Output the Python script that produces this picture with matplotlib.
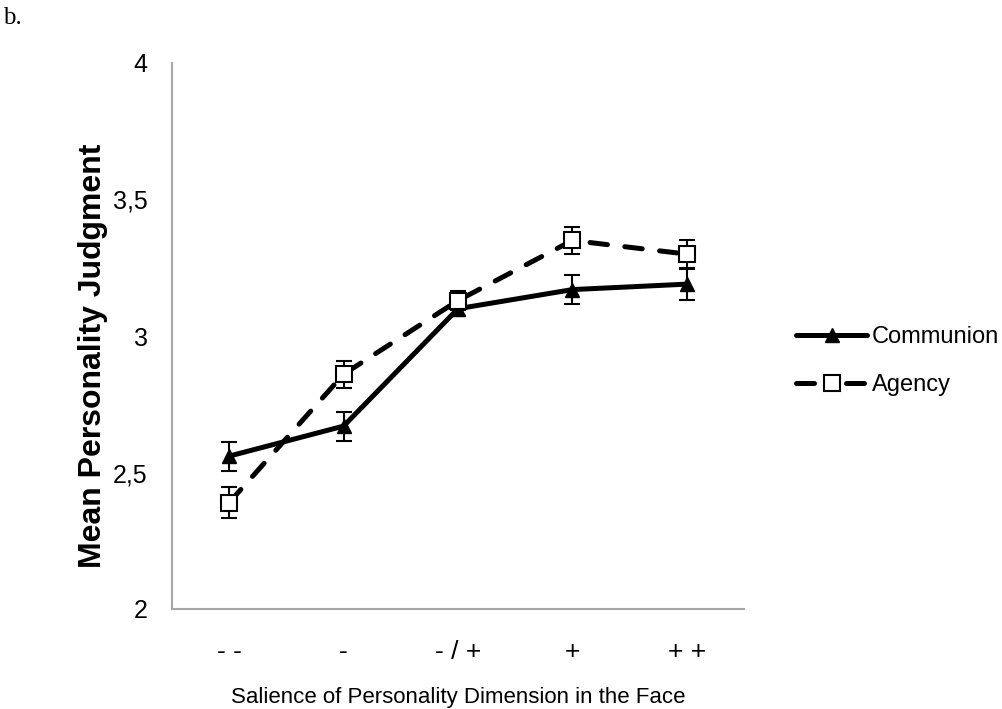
import matplotlib
matplotlib.use("Agg")
import matplotlib.pyplot as plt
from matplotlib.lines import Line2D

categories = ["- -", "-", "- / +", "+", "+ +"]
communion = [2.56, 2.67, 3.10, 3.17, 3.19]
communion_err = [0.053, 0.053, 0.025, 0.053, 0.058]
agency = [2.39, 2.86, 3.13, 3.35, 3.30]
agency_err = [0.058, 0.05, 0.035, 0.05, 0.053]
yticks = [2, 2.5, 3, 3.5, 4]
ytick_labels = ["2", "2,5", "3", "3,5", "4"]

plt.rcParams['font.family'] = ['Liberation Sans', 'DejaVu Sans']

fig = plt.figure(figsize=(10.02, 7.09), dpi=100)
ax = fig.add_axes([172/1002, 1-609/709, (744-172)/1002, (609-63)/709])

x = list(range(len(categories)))

ax.errorbar(x, communion, yerr=communion_err, color='black', linewidth=3.6,
            marker='^', markersize=10, markerfacecolor='black', markeredgecolor='black',
            ecolor='black', elinewidth=1.5, capsize=6, capthick=1.5,
            solid_capstyle='round', zorder=3)
agency_line = ax.errorbar(x, agency, yerr=agency_err, color='black', linewidth=3.6,
            marker='s', markersize=11, markerfacecolor='white', markeredgecolor='black',
            markeredgewidth=1.5, ecolor='black', elinewidth=1.5, capsize=6, capthick=1.5,
            zorder=4)
agency_line[0].set_dashes((3.5, 3.5))
agency_line[0].set_dash_capstyle('round')

ax.set_xlim(-0.5, 4.5)
ax.set_ylim(2, 4)
ax.set_xticks(x)
ax.set_xticklabels(categories, fontsize=19)
ax.set_yticks(yticks)
ax.set_yticklabels(ytick_labels, fontsize=18)
ax.tick_params(axis='both', length=0)
ax.tick_params(axis='y', pad=17.5)
ax.tick_params(axis='x', pad=22)
for s in ['top', 'right']:
    ax.spines[s].set_visible(False)
for s in ['left', 'bottom']:
    ax.spines[s].set_color('#a6a6a6')
    ax.spines[s].set_linewidth(1.5)

ax.set_xlabel("Salience of Personality Dimension in the Face", fontsize=16)
ax.xaxis.set_label_coords(0.5, (609-697)/546)
ax.xaxis.label.set_verticalalignment('center')
ax.set_ylabel("Mean Personality Judgment", fontsize=23, fontweight='bold')
ax.yaxis.set_label_coords((93-172)/572, (609-356)/546)
ax.yaxis.label.set_verticalalignment('center')

h1 = Line2D([], [], color='black', linewidth=3.6, marker='^', markersize=10,
            markerfacecolor='black', solid_capstyle='round')
h2 = Line2D([], [], color='black', linewidth=3.6, marker='s', markersize=11,
            markerfacecolor='white', markeredgewidth=1.5, dashes=(3.6, 6.4),
            dash_capstyle='round')
fig.legend([h1, h2], ["Communion", "Agency"], loc='center left',
           bbox_to_anchor=(775/1002, 1-361/709), frameon=False, fontsize=17,
           handlelength=3.0, handletextpad=0.2, labelspacing=1.1)

fig.text(3/1002, 1-18/709, "b.", fontsize=18, family=['Liberation Serif'], va='center', ha='left')

fig.savefig("out.png", dpi=100)
